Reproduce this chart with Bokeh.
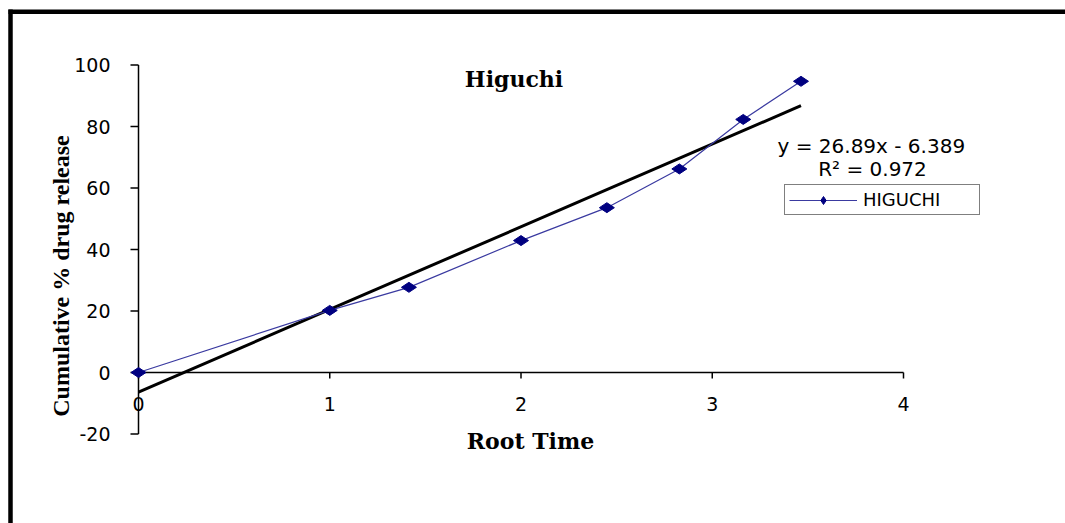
import numpy as np
from bokeh.plotting import figure
from bokeh.models import Range1d, Legend, LegendItem
from bokeh.core.properties import value
from bokeh.embed import file_html
from bokeh.resources import INLINE

# ---- data ----
root_time = [0, 1, 1.414, 2, 2.449, 2.828, 3.162, 3.464]
release = [0, 20.2, 27.7, 42.9, 53.6, 66.2, 82.3, 94.7]
x_ticks = [0, 1, 2, 3, 4]
y_ticks = [-20, 0, 20, 40, 60, 80, 100]
slope = 26.89
intercept = -6.389
r_squared = 0.972
series_name = "HIGUCHI"
title_text = "Higuchi"
x_title = "Root Time"
y_title = "Cumulative % drug release"

# ---- layout (pixel geometry) ----
W, H = 1065, 523
X0, XS = 138.0, 191.25   # pixel of x=0, pixels per unit
Y0, YS = 372.0, 3.075    # pixel of y=0, pixels per unit


def dx(px):
    return (px - X0) / XS


def dy(py):
    return (Y0 - py) / YS


p = figure(width=W, height=H,
           x_range=Range1d(dx(0), dx(W)), y_range=Range1d(dy(H), dy(0)),
           x_axis_type=None, y_axis_type=None, min_border=0,
           toolbar_location=None, output_backend="svg", title=None)
p.outline_line_color = None
p.background_fill_color = "white"
p.border_fill_color = "white"

SANS = value("DejaVu Sans")
SERIF = value("DejaVu Serif")

# outer frame (left and top edges visible)
p.segment(x0=[dx(10)], y0=[dy(9)], x1=[dx(10)], y1=[dy(H)], line_color="black", line_width=4.5)
p.segment(x0=[dx(8)], y0=[dy(11.3)], x1=[dx(W)], y1=[dy(11.3)], line_color="black", line_width=4.5)

# axes lines
p.segment(x0=[0], y0=[min(y_ticks)], x1=[0], y1=[max(y_ticks)], line_color="black", line_width=1.5)
p.segment(x0=[0], y0=[0], x1=[max(x_ticks)], y1=[0], line_color="black", line_width=1.5)

# tick marks
p.segment(x0=[dx(130)] * len(y_ticks), y0=y_ticks, x1=[0] * len(y_ticks), y1=y_ticks,
          line_color="black", line_width=1.5)
p.segment(x0=x_ticks, y0=[0] * len(x_ticks), x1=x_ticks, y1=[dy(378)] * len(x_ticks),
          line_color="black", line_width=1.5)

# tick labels
p.text(x=[dx(110)] * len(y_ticks), y=y_ticks, text=[str(v) for v in y_ticks],
       text_align="right", text_baseline="middle", text_font=SANS,
       text_font_size=value("19px"), text_color="black")
p.text(x=x_ticks, y=[dy(403)] * len(x_ticks), text=[str(v) for v in x_ticks],
       text_align="center", text_baseline="middle", text_font=SANS,
       text_font_size=value("19px"), text_color="black")

# axis titles and chart title
p.text(x=[dx(530)], y=[dy(440)], text=[x_title], text_align="center",
       text_baseline="alphabetic", text_font=SERIF, text_font_style="bold",
       text_font_size=value("22px"), text_color="black")
p.text(x=[dx(60)], y=[dy(275.5)], text=[y_title], angle=np.pi / 2, text_align="center",
       text_baseline="middle", text_font=value("Liberation Serif"), text_font_style="bold",
       text_font_size=value("24px"), text_color="black")
p.text(x=[dx(513.5)], y=[dy(78)], text=[title_text], text_align="center",
       text_baseline="alphabetic", text_font=SERIF, text_font_style="bold",
       text_font_size=value("22px"), text_color="black")

# trend line
tx = np.array([min(root_time), max(root_time)])
p.line(tx, slope * tx + intercept, line_color="black", line_width=3)

# series
ln = p.line(root_time, release, line_color="#3a3aa0", line_width=1.2)
sc = p.scatter(root_time, release, marker="diamond", size=15, angle=np.pi / 2,
               fill_color="#000080", line_color="#000080")

# equation
p.text(x=[dx(874), dx(872)], y=[dy(145), dy(168.5)],
       text=[f"y = {slope}x  - {abs(intercept)}", f"R\u00b2 = {r_squared}"],
       text_align="center", text_baseline="middle", text_font=SANS,
       text_font_size=value("20px"), text_color="black")

legend = Legend(items=[LegendItem(label=series_name, renderers=[ln, sc])],
                location=(784, H - 215), padding=4, margin=0, spacing=0,
                glyph_width=68, glyph_height=20, label_standoff=6,
                label_width=112, label_height=20,
                border_line_color="black", border_line_width=1,
                background_fill_color="white", background_fill_alpha=1,
                label_text_font="DejaVu Sans", label_text_font_size="18px",
                label_text_color="black")
p.add_layout(legend)

open("out.html", "w").write(file_html(p, INLINE))
